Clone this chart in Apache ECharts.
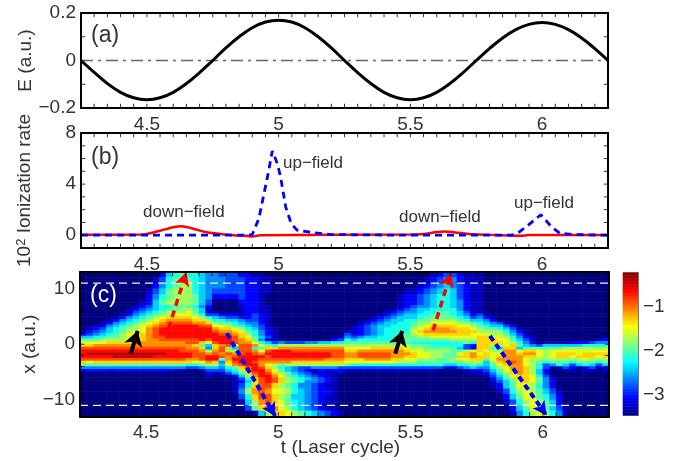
<!DOCTYPE html>
<html><head><meta charset="utf-8">
<script src="https://cdn.jsdelivr.net/npm/echarts@6/dist/echarts.min.js"></script>
<style>html,body{margin:0;padding:0;background:#fff}#c{width:674px;height:461px}</style>
</head><body><div id="c"></div>
<script>
const tE = [4.25,4.3,4.35,4.4,4.45,4.5,4.55,4.6,4.65,4.7,4.75,4.8,4.85,4.9,4.95,5,5.05,5.1,5.15,5.2,5.25,5.3,5.35,5.4,5.45,5.5,5.55,5.6,5.65,5.7,5.75,5.8,5.85,5.9,5.95,6,6.05,6.1,6.15,6.2,6.25];
const fieldE = [0,-0.05,-0.097,-0.134,-0.157,-0.165,-0.157,-0.134,-0.097,-0.051,0,0.053,0.1,0.138,0.162,0.17,0.162,0.138,0.1,0.053,0,-0.051,-0.097,-0.134,-0.157,-0.165,-0.157,-0.134,-0.097,-0.051,0,0.05,0.095,0.13,0.152,0.16,0.152,0.13,0.095,0.05,0];
const tUp = [4.25,4.87,4.9,4.925,4.945,4.96,4.976,4.995,5.007,5.027,5.048,5.07,5.13,5.2,5.5,5.88,5.904,5.942,5.995,6.036,6.068,6.12,6.25];
const rateUp = [0,0,0.05,1.3,3.3,4.8,6.6,5.6,4.6,2.2,0.9,0.4,0.2,0.05,0,0,0.1,0.7,1.6,0.65,0.15,0.05,0];
const tDown = [4.25,4.48,4.5,4.55,4.6,4.63,4.67,4.72,4.78,4.83,4.88,4.9,4.93,5.5,5.55,5.6,5.63,5.67,5.72,5.8,5.88,5.92,5.95,6.25];
const rateDown = [0.03,0.05,0.1,0.35,0.62,0.7,0.55,0.25,0.1,0,-0.05,-0.1,0,0.05,0.1,0.25,0.3,0.22,0.1,0.03,-0.03,-0.05,0.02,0.02];
// row height in half-units of x, top to bottom
const rowSpans = [2,2,2,2,2,2, 1,1,1,1,1,1,1,1,1,1,1,1,1,1,1,1,1,1,1,1,1,1,1,1,1,1,1,1, 2,2,2,2,2,2];
// each row: 80 cells, hex level (t = 4.25..6.25)
const densityRows = [
"0000000000 0025676654 4333221100 0000000000 0000000000 0001233211 1000000000 0000000000",
"0000000000 0136777654 4433322110 0000000000 0000000000 0012344211 1000000000 0000000000",
"0000000000 0246788654 4433322110 0000000000 0000000000 0123454321 1000000000 0000000000",
"0000000000 1357888654 3333322110 0000000000 0000000001 1234565321 1000000000 0000000000",
"0000000000 2467888754 2222322100 0000000000 0000000012 2345665321 1000000000 0000000000",
"0000000001 2578888753 0000222100 0000000000 0000000012 2345665421 1000000000 0000000000",
"0000000012 3566777642 0000122110 0000000000 0000000012 3445665421 1000000000 0000000000",
"0000000123 4567788751 0000122110 0000000000 0000000123 4556666421 1000000000 0000000000",
"0000000134 5678889751 1000122110 0000000000 0000001234 4566776531 1000000000 0000000000",
"0000001245 6788999863 3222123210 0000000000 0000012345 5667776542 3100000000 0000000000",
"0000012456 789aaaa986 5433223210 0000000000 0000123455 5677777653 4210000000 0000000000",
"0000124567 89abbbbaa8 6655433210 0000000000 0001234556 6778888765 5420000000 0000000000",
"0001245678 9abccccbba 8776544210 0000000000 0012345566 7889999887 6543100000 0000000000",
"0012456789 abccddddcc 9987654310 0000000000 0123455666 789aaaa998 7655320000 0000000000",
"0123567889 bcdddddddd baa9865321 0000000000 0123456666 89abbbaaa9 8776531000 0000000000",
"1234567899 bcdddddddd cbba976421 0000000000 1123456666 9abbbbbaaa 8888642100 0000000000",
"234567899a bcdddddddd dccba86421 0000000000 3223456667 89aaaaaaa9 9988753100 0000000000",
"556677899a bccddddddd dddca97531 0000000011 4345566677 7889999999 aa99864210 0000000000",
"777888899a bbccccccdc dddcba7421 0000000023 6566666677 7777778888 aaa9975310 0000000012",
"9999aaaaab bbbbbbcca9 cddcbb9653 4333445566 7777777777 6666666676 aaaa986420 1111222344",
"aabbbbbbbb bbbbbbba75 abc9ccb976 8888888888 8888888888 7776666632 aa889a7543 5555556666",
"cccccccccc ccccccbba4 ac75cc67aa bbbbbbbbbb 9999aaaaa9 8877777532 aa75aa5777 7778888888",
"dddddddddd dddddcccb8 bca8ccb9cd ddcccccccc aabbbbbbba 9988887789 a988bb9aa9 8999999999",
"deeeeeeeee eeeddddccb cbcbcdcbdd ddddddddcc bbcccccbbb a9988779ab 9a99bbabb9 89aaa9aaaa",
"dddddeeeee eddddddccd dcbcddddcd ddddddddcc bbcccccbba a998877aab aa9abbbaa9 89aa9aaa9a",
"cccccccccc ccccccbbcd d7bddddccc cccccccbbb aaabbbbaa9 988877899a a79bbbb988 8888889888",
"a9aaaaaaaa aaaaaaa99b a4acddcbbb bbaaaaaaaa 9999999988 8777777788 858abcb987 6777677767",
"7777777777 7777776678 859bcddb98 7888888888 7666666666 6666655667 6579abb986 3465356535",
"4444444444 4444443345 5467acdca8 6543344443 3333333333 3333322345 44689bba86 3113212312",
"2222222222 2222110013 33568bddb9 7543212222 1111111111 1111000012 23579aba85 2001101101",
"0000000000 0000000002 12357acdca 8754312111 0000000000 0000000001 12468aba85 2000000000",
"0000000000 0000000001 001258bddb 9765432110 0000000000 0000000000 013579aa96 3100000000",
"0000000000 0000000000 000136acdc a876543210 0000000000 0000000000 002468aa97 4100000000",
"0000000000 0000000000 0001259cdc a876443210 0000000000 0000000000 0013579a97 4200000000",
"0000000000 0000000000 000136acca 8764432110 0000000000 0000000000 0012579986 4200000000",
"0000000000 0000000000 000148bcb9 9865432210 0000000000 0000000000 0001368987 5310000000",
"0000000000 0000000000 000036acca 8755432110 0000000000 0000000000 0000257997 6420000000",
"0000000000 0000000000 0000158bca 9765432110 0000000000 0000000000 0000136898 7520000000",
"0000000000 0000000000 0000037acb 9865432110 0000000000 0000000000 0000025798 7531000000",
"0000000000 0000000000 000000158a a987654321 0000000000 0000000000 0000014689 8641000000"
];
const levelStep = 0.22, levelBase = -3.5;
const zeroLineT = [4.25, 6.25], zeroLineE = [0, 0];
const dashLineT = [4.25, 6.25], dashUpper = [11, 11], dashLower = [-11, -11];
const blackArrows = [[4.442,-1.7,4.468,2.4],[5.442,-1.7,5.468,2.4]];
const redArrows = [[4.585,2.8,4.652,13],[5.585,2.5,5.652,12.8]];
const blueArrows = [[4.805,2,4.989,-13],[5.80,1.5,6.014,-12.8]];
const tLabels = [4.5,5,5.5,6];
const tTicks = [4.3,4.35,4.4,4.45,4.5,4.55,4.6,4.65,4.7,4.75,4.8,4.85,4.9,4.95,5,5.05,5.1,5.15,5.2,5.25,5.3,5.35,5.4,5.45,5.5,5.55,5.6,5.65,5.7,5.75,5.8,5.85,5.9,5.95,6,6.05,6.1,6.15,6.2];
const eTicks = [-0.1,0.1], eLabels = [-0.2,0,0.2];
const rateTicks = [0,1,2,3,4,5,6,7], rateLabels = [0,4,8];
const xTicks = [-12,-10,-8,-6,-4,-2,0,2,4,6,8,10,12], xLabels = [-10,0,10];
const cbarMin = -3.48, cbarMax = -0.21, cbarLabels = [-3,-2,-1];
const jet = ['#00007f','#0000ff','#007fff','#00ffff','#7fff7f','#ffff00','#ff7f00','#ff0000','#7f0000'];

const txt = '#333', fs = 19, ff = '"Liberation Sans", Arial, sans-serif';
const minus = v => String(v).replace('-', '\u2212');
const heat = [];
const tCats = Array.from({length:80},(_,i)=>i);
let rowCursor = 0;
densityRows.forEach((r,row)=>{
  const s = r.replace(/\s/g,'');
  for (let k=0;k<rowSpans[row];k++){
    for (let i=0;i<80;i++) heat.push([i,rowCursor,levelBase+levelStep*parseInt(s[i]||'0',16)]);
    rowCursor++;
  }
});
const rowCats = Array.from({length:rowCursor},(_,i)=>i);
const cbarCats = [], cbarData = [];
for (let i=0;i<96;i++){ cbarCats.push(i); cbarData.push([0,i,cbarMin+(cbarMax-cbarMin)*(i+0.5)/96]); }

const grids = [
 {left:81,width:527,top:13,height:95},
 {left:81,width:527,top:133,height:115},
 {left:80,width:529,top:272,height:144.5},
 {left:80,width:529,top:272,height:144.5},
 {left:623,width:15,top:272.5,height:143},
 {left:623,width:15,top:272.5,height:143}
];
const line = {show:true,onZero:false,lineStyle:{color:'#000',width:2}};
function xA(g,pos,lab,nm){ return {type:'value',gridIndex:g,position:pos,min:4.25,max:6.25,z:10,
  axisLine:line,splitLine:{show:false},axisTick:{show:false},
  axisLabel:lab?{show:true,customValues:tLabels,color:txt,fontSize:fs,fontFamily:ff,margin:7,hideOverlap:false,formatter:v=>String(v)}:{show:false},
  ...(nm||{})}; }
function yA(g,pos,mn,mx,labels,nm){ return {type:'value',gridIndex:g,position:pos,min:mn,max:mx,z:10,
  axisLine:line,splitLine:{show:false},axisTick:{show:false},
  axisLabel:labels?{show:true,customValues:labels,color:txt,fontSize:fs,fontFamily:ff,margin:5,formatter:minus}:{show:false},
  ...(nm||{})}; }
const yName = (n,gap)=>({name:n,nameLocation:'middle',nameGap:gap,nameRotate:90,nameMoveOverlap:false,
  nameTextStyle:{color:txt,fontSize:fs,fontFamily:ff,rich:{s:{fontSize:13,color:txt,fontFamily:ff,verticalAlign:'top',padding:[0,0,7,0]}}}});
const arrowSeries = (arr,color,w,dash,size)=>({type:'line',xAxisIndex:6,yAxisIndex:6,data:[],silent:true,z:4,
  markLine:{silent:true,animation:false,symbol:['none','arrow'],symbolSize:size,precision:4,label:{show:false},emphasis:{disabled:true},
   lineStyle:{color,width:w,type:dash},
   data:arr.map(a=>[{coord:[a[0],a[1]]},{coord:[a[2],a[3]]}])}});
const tickMark = (ax,pts,size,off)=>({type:'scatter',xAxisIndex:ax,yAxisIndex:ax,data:pts,symbol:'rect',symbolSize:size,symbolOffset:off,itemStyle:{color:'#000'},silent:true,clip:false,z:12});
function panelTicks(ax,yMin,yMax,yTicks){
  return [
   tickMark(ax,tTicks.map(t=>[t,yMin]),[1,3.5],[0,-2.5]),
   tickMark(ax,tTicks.map(t=>[t,yMax]),[1,3.5],[0,2.5]),
   tickMark(ax,yTicks.map(v=>[4.25,v]),[3.5,1],[2.5,0]),
   tickMark(ax,yTicks.map(v=>[6.25,v]),[3.5,1],[-2.5,0])
  ];
}

const option = {
 animation:false,backgroundColor:'#fff',
 grid:grids,
 xAxis:[
  xA(0,'bottom',true), xA(0,'top',false),
  xA(1,'bottom',true), xA(1,'top',false),
  {type:'category',gridIndex:2,data:tCats,show:false},
  {type:'category',gridIndex:4,data:['c'],show:false},
  xA(3,'bottom',true,{name:'t (Laser cycle)',nameLocation:'middle',nameGap:22,nameMoveOverlap:false,nameTextStyle:{color:txt,fontSize:fs,fontFamily:ff,padding:[0,8,0,0]}}),
  xA(3,'top',false),
  {type:'value',gridIndex:5,min:0,max:1,show:false}
 ],
 yAxis:[
  yA(0,'left',-0.2,0.2,eLabels,yName('E (a.u.)',46)), yA(0,'right',-0.2,0.2,null),
  yA(1,'left',-1,8,rateLabels,yName('10{s|2} Ionization rate',46)), yA(1,'right',-1,8,null),
  {type:'category',gridIndex:2,data:rowCats,inverse:true,show:false},
  {type:'category',gridIndex:4,data:cbarCats,show:false},
  yA(3,'left',-13,13,xLabels,yName('x (a.u.)',41)), yA(3,'right',-13,13,null),
  {type:'value',gridIndex:5,position:'right',min:cbarMin,max:cbarMax,z:10,
   axisLine:{show:true,onZero:false,lineStyle:{color:'#777',width:1}},splitLine:{show:false},
   axisTick:{show:false},
   axisLabel:{show:true,customValues:cbarLabels,color:txt,fontSize:fs,fontFamily:ff,margin:5,formatter:minus}}
 ],
 visualMap:[{type:'continuous',show:false,seriesIndex:[4,5],dimension:2,min:cbarMin,max:cbarMax,inRange:{color:jet}}],
 series:[
  {type:'line',xAxisIndex:0,yAxisIndex:0,data:zeroLineT.map((t,i)=>[t,zeroLineE[i]]),symbol:'none',lineStyle:{color:'#666',width:1.4,type:[12,5,3,5]},z:2,silent:true},
  {type:'line',xAxisIndex:0,yAxisIndex:0,data:tE.map((t,i)=>[t,fieldE[i]]),smooth:0.4,symbol:'none',lineStyle:{color:'#000',width:3},z:3,silent:true},
  {type:'line',xAxisIndex:2,yAxisIndex:2,data:tDown.map((t,i)=>[t,rateDown[i]]),smooth:0.3,symbol:'none',lineStyle:{color:'#ff0000',width:2.5},z:3,silent:true},
  {type:'line',xAxisIndex:2,yAxisIndex:2,data:tUp.map((t,i)=>[t,rateUp[i]]),symbol:'none',lineStyle:{color:'#0000ff',width:2.8,type:[7,5]},z:4,silent:true},
  {type:'heatmap',xAxisIndex:4,yAxisIndex:4,data:heat,progressive:0,silent:true,z:1,emphasis:{disabled:true}},
  {type:'heatmap',xAxisIndex:5,yAxisIndex:5,data:cbarData,progressive:0,silent:true,z:1,emphasis:{disabled:true}},
  {type:'line',xAxisIndex:6,yAxisIndex:6,data:dashLineT.map((t,i)=>[t,dashUpper[i]]),symbol:'none',lineStyle:{color:'#f4f4f4',width:1.2,type:[8,5]},z:3,silent:true},
  {type:'line',xAxisIndex:6,yAxisIndex:6,data:dashLineT.map((t,i)=>[t,dashLower[i]]),symbol:'none',lineStyle:{color:'#f4f4f4',width:1.2,type:[8,5]},z:3,silent:true},
  arrowSeries(redArrows,'#ff0000',3.5,[7,5],[11,14]),
  arrowSeries(blueArrows,'#0000ff',4,[6,4],[11,14]),
  arrowSeries(blackArrows,'#000',4,'solid',[14,15]),
  ...panelTicks(0,-0.2,0.2,eTicks),
  ...panelTicks(2,-1,8,rateTicks),
  ...panelTicks(6,-13,13,xTicks)
 ],
 graphic:[
  {type:'text',left:91,top:24,z:20,style:{text:'(a)',fill:txt,font:'23px '+ff}},
  {type:'text',left:91,top:146,z:20,style:{text:'(b)',fill:txt,font:'23px '+ff}},
  {type:'text',left:90,top:284,z:20,style:{text:'(c)',fill:'#fff',font:'23px '+ff}},
  {type:'text',left:143,top:204,z:20,style:{text:'down\u2212field',fill:txt,font:'17px '+ff}},
  {type:'text',left:283,top:155,z:20,style:{text:'up\u2212field',fill:txt,font:'17px '+ff}},
  {type:'text',left:399,top:209,z:20,style:{text:'down\u2212field',fill:txt,font:'17px '+ff}},
  {type:'text',left:514,top:195,z:20,style:{text:'up\u2212field',fill:txt,font:'17px '+ff}}
 ]
};
echarts.init(document.getElementById('c'),null,{renderer:'canvas'}).setOption(option);
</script></body></html>
